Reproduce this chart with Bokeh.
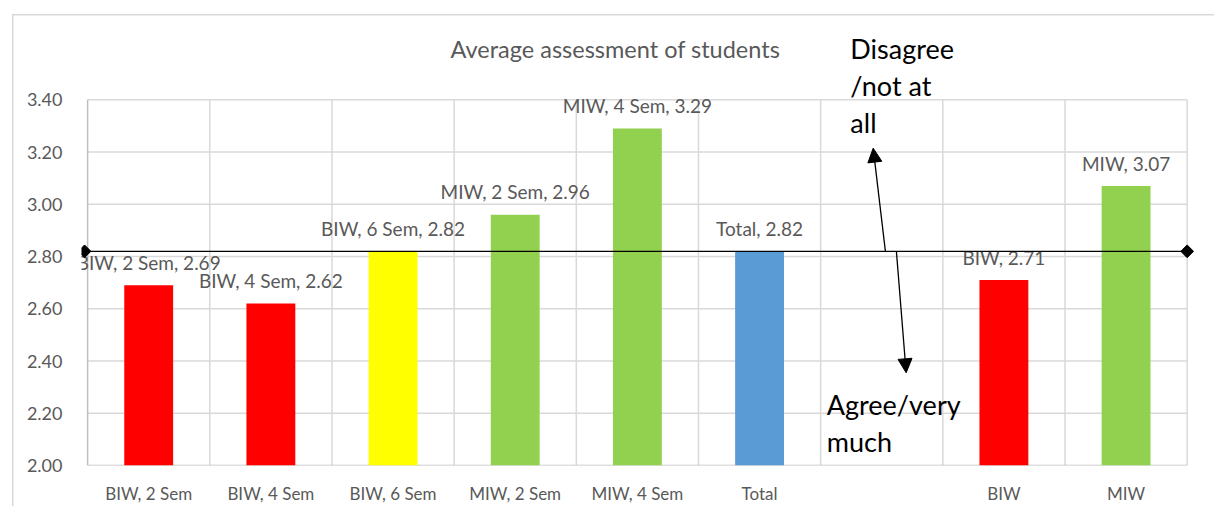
import math
from bokeh.plotting import figure
from bokeh.models import (ColumnDataSource, Range1d, FixedTicker, Arrow, NormalHead)
from bokeh.core.properties import value
from bokeh.embed import file_html
from bokeh.resources import INLINE

# ---- data ----
categories = ["BIW, 2 Sem", "BIW, 4 Sem", "BIW, 6 Sem", "MIW, 2 Sem", "MIW, 4 Sem",
              "Total", "", "BIW", "MIW"]
values = [2.69, 2.62, 2.82, 2.96, 3.29, 2.82, None, 2.71, 3.07]
bar_colors = ["#FF0000", "#FF0000", "#FFFF00", "#92D050", "#92D050",
              "#5B9BD5", None, "#FF0000", "#92D050"]
y_ticks = [2.00, 2.20, 2.40, 2.60, 2.80, 3.00, 3.20, 3.40]
reference_value = 2.82
title_text = "Average assessment of students"
disagree_lines = ["Disagree", "/not at", "all"]
agree_lines = ["Agree/very", "much"]

FONT = "Lato"
GRAY = "#595959"

p = figure(frame_width=1113, frame_height=444, output_backend="svg", toolbar_location=None,
           x_range=Range1d(-0.05, 9.06), y_range=Range1d(2.0, 3.7),
           min_border_left=81, min_border_right=20, min_border_top=21, min_border_bottom=0,
           background_fill_color="white", border_fill_color=None)
p.outline_line_color = None
p.xgrid.visible = False
p.ygrid.visible = False

# outer chart border (only its left and top edges fall inside the window)
edge = "linear-gradient(#d9d9d9, #d9d9d9)"
p.styles = {
    "background-color": "white",
    "background-image": f"{edge}, {edge}",
    "background-position": "12px 14px, 12px 14px",
    "background-size": "1.5px 100%, 100% 1.5px",
    "background-repeat": "no-repeat, no-repeat",
}

n = len(categories)
# gridlines
p.segment(x0=[0] * (len(y_ticks) - 1), x1=[n] * (len(y_ticks) - 1), y0=y_ticks[1:], y1=y_ticks[1:],
          line_color="#d9d9d9", line_width=1.5)
p.segment(x0=list(range(1, n + 1)), x1=list(range(1, n + 1)), y0=[y_ticks[0]] * n, y1=[y_ticks[-1]] * n,
          line_color="#d9d9d9", line_width=1.5)
p.segment(x0=[0], x1=[0], y0=[y_ticks[0]], y1=[y_ticks[-1]], line_color="#bfbfbf", line_width=1.5)
p.segment(x0=[0], x1=[n], y0=[y_ticks[0]], y1=[y_ticks[0]], line_color="#bfbfbf", line_width=1.5)

# bars
xs, tops, cols, labels = [], [], [], []
for i, (c, v, col) in enumerate(zip(categories, values, bar_colors)):
    if v is None:
        continue
    xs.append(i + 0.5)
    tops.append(v)
    cols.append(col)
    labels.append(f"{c}, {v:.2f}")
src = ColumnDataSource(dict(x=xs, top=tops, color=cols, label=labels))
p.vbar(x="x", top="top", bottom=y_ticks[0], width=0.4, fill_color="color", line_color=None, source=src)

# data labels
p.text(x="x", y="top", text="label", source=src, text_align="center", text_baseline="middle",
       y_offset=-23, text_font=value(FONT), text_font_size="19px", text_color=GRAY)

# reference line with diamonds
p.line(x=[-0.025, n], y=[reference_value, reference_value], line_color="black", line_width=1.3)
p.scatter(x=[-0.025, n], y=[reference_value, reference_value], marker="square", angle=math.pi / 4,
          size=9, fill_color="black", line_color="black")

# arrows
head_kw = dict(size=14, fill_color="black", line_color="black")
p.add_layout(Arrow(end=NormalHead(**head_kw), x_start=6.53, y_start=reference_value,
                   x_end=6.43, y_end=3.215, line_color="black", line_width=1.3))
p.add_layout(Arrow(end=NormalHead(**head_kw), x_start=6.62, y_start=reference_value,
                   x_end=6.70, y_end=2.355, line_color="black", line_width=1.3))

# annotation texts
step = 37 / 261.2
p.text(x=[6.243] * len(disagree_lines), y=[3.595 - k * step for k in range(len(disagree_lines))],
       text=disagree_lines, text_align="left", text_baseline="middle",
       text_font=value(FONT), text_font_size="27px", text_color="black")
p.text(x=[6.05] * len(agree_lines), y=[2.235 - k * step for k in range(len(agree_lines))],
       text=agree_lines, text_align="left", text_baseline="middle",
       text_font=value(FONT), text_font_size="27px", text_color="black")

# title
p.text(x=[4.32], y=[3.595], text=[title_text], text_align="center", text_baseline="middle",
       text_font=value(FONT), text_font_size="23.5px", text_color=GRAY)

# axes
p.xaxis.ticker = FixedTicker(ticks=[i + 0.5 for i in range(n)])
p.xaxis.major_label_overrides = {i + 0.5: c for i, c in enumerate(categories)}
p.xaxis.major_label_text_font = FONT
p.xaxis.major_label_text_font_size = "17px"
p.xaxis.major_label_text_color = GRAY
p.xaxis.major_label_standoff = 11
p.xaxis.axis_line_color = None
p.xaxis.major_tick_line_color = None
p.xaxis.minor_tick_line_color = None

p.yaxis.ticker = FixedTicker(ticks=y_ticks)
p.yaxis.major_label_overrides = {t: f"{t:.2f}" for t in y_ticks}
p.yaxis.major_label_text_font = FONT
p.yaxis.major_label_text_font_size = "18px"
p.yaxis.major_label_text_color = GRAY
p.yaxis.major_label_standoff = 13
p.yaxis.axis_line_color = None
p.yaxis.major_tick_line_color = None
p.yaxis.minor_tick_line_color = None

open("out.html", "w").write(file_html(p, INLINE))
